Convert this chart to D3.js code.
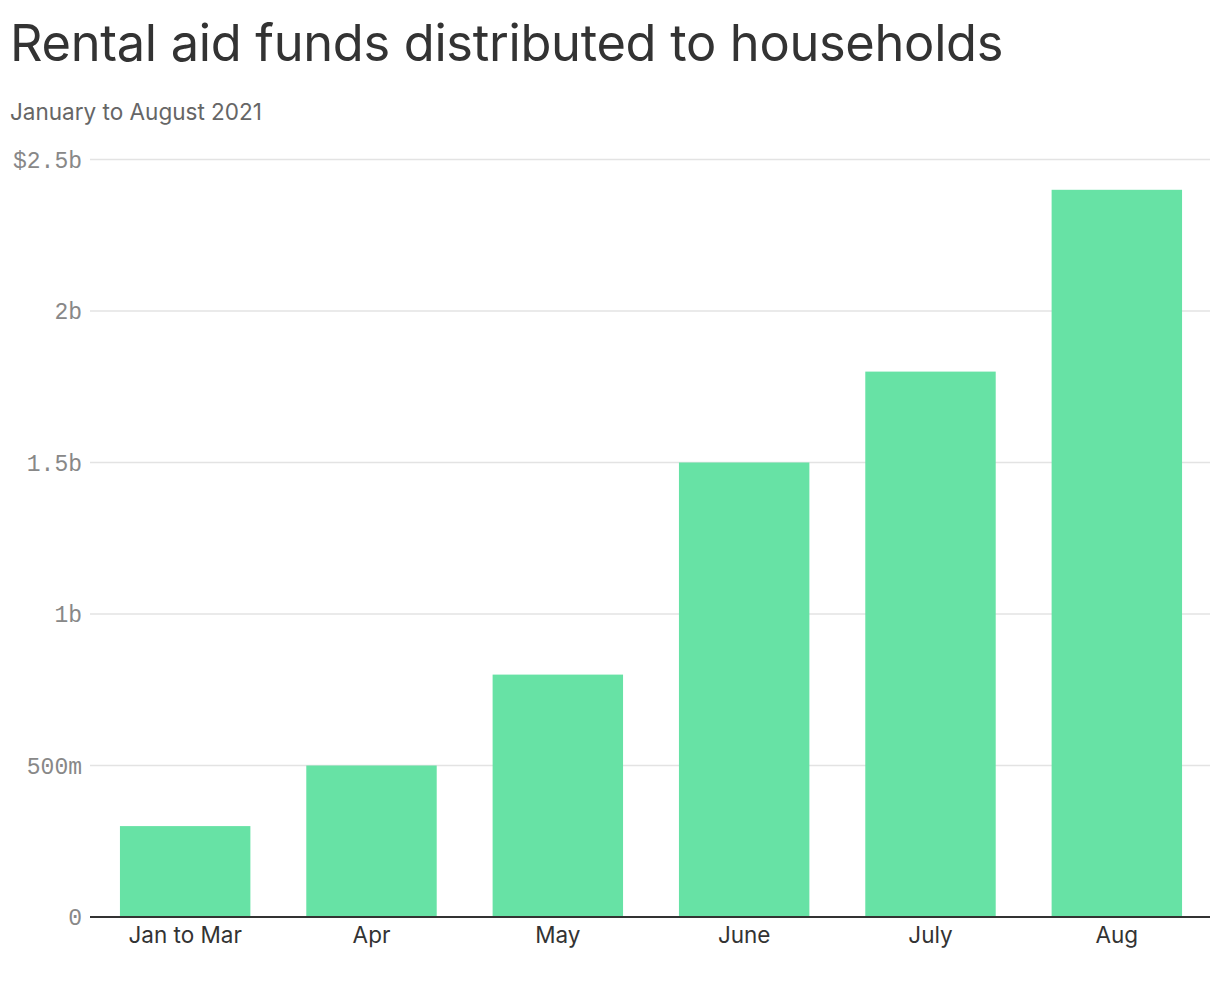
<!DOCTYPE html>
<html><head><meta charset="utf-8">
<script src="https://cdn.jsdelivr.net/npm/d3@7"></script>
<style>
html,body{margin:0;padding:0;background:#fff;}
svg{display:block;}
</style></head>
<body>
<svg id="chart" width="1220" height="1006"></svg>
<script>
const categories = ["Jan to Mar", "Apr", "May", "June", "July", "Aug"];
const values = [0.3, 0.5, 0.8, 1.5, 1.8, 2.4]; // billions of dollars
const yTicks = [0, 0.5, 1, 1.5, 2, 2.5];
const yTickLabels = ["0", "500m", "1b", "1.5b", "2b", "$2.5b"];
const titleText = "Rental aid funds distributed to households";
const subtitleText = "January to August 2021";

const svg = d3.select("#chart");
const sans = "Inter, 'Noto Sans', Roboto, sans-serif";
const mono = "'Liberation Mono', 'DejaVu Sans Mono', monospace";

const x = d3.scaleBand().domain(categories).range([92, 1210]).paddingInner(0.3).paddingOuter(0.15);
const y = d3.scaleLinear().domain([0, 2.5]).range([917, 159.5]);

// title
const title = svg.append("text").attr("x", 10).attr("y", 61)
  .attr("font-family", sans).attr("font-size", 49).attr("fill", "#333")
  .attr("letter-spacing", "-0.3px")
  .text(titleText);
const tw = title.node().getComputedTextLength();
title.attr("font-size", 49 * 993 / tw);

const sub = svg.append("text").attr("x", 10).attr("y", 120)
  .attr("font-family", sans).attr("font-size", 21.5).attr("fill", "#666")
  .text(subtitleText);
const sw = sub.node().getComputedTextLength();
sub.attr("font-size", 21.5 * 252 / sw);

// gridlines
svg.append("g").selectAll("line").data(yTicks.filter(d => d > 0)).join("line")
  .attr("x1", 90).attr("x2", 1210)
  .attr("y1", d => y(d)).attr("y2", d => y(d))
  .attr("stroke", "#e3e3e3").attr("stroke-width", 1.5);

// y labels
svg.append("g").selectAll("text").data(yTicks).join("text")
  .attr("x", 82).attr("y", d => y(d) + 8)
  .attr("text-anchor", "end")
  .attr("font-family", mono).attr("font-size", 23).attr("fill", "#888")
  .text((d, i) => yTickLabels[i]);

// bars
svg.append("g").selectAll("rect").data(values).join("rect")
  .attr("x", (d, i) => x(categories[i]))
  .attr("width", x.bandwidth())
  .attr("y", d => y(d))
  .attr("height", d => y(0) - y(d))
  .attr("fill", "#67e2a5");

// baseline
svg.append("line").attr("x1", 90).attr("x2", 1210)
  .attr("y1", y(0)).attr("y2", y(0))
  .attr("stroke", "#333").attr("stroke-width", 2);

// x labels
svg.append("g").selectAll("text").data(categories).join("text")
  .attr("x", d => x(d) + x.bandwidth() / 2)
  .attr("y", 943)
  .attr("text-anchor", "middle")
  .attr("font-family", sans).attr("font-size", 22.5).attr("fill", "#333")
  .text(d => d);
</script>
</body></html>
